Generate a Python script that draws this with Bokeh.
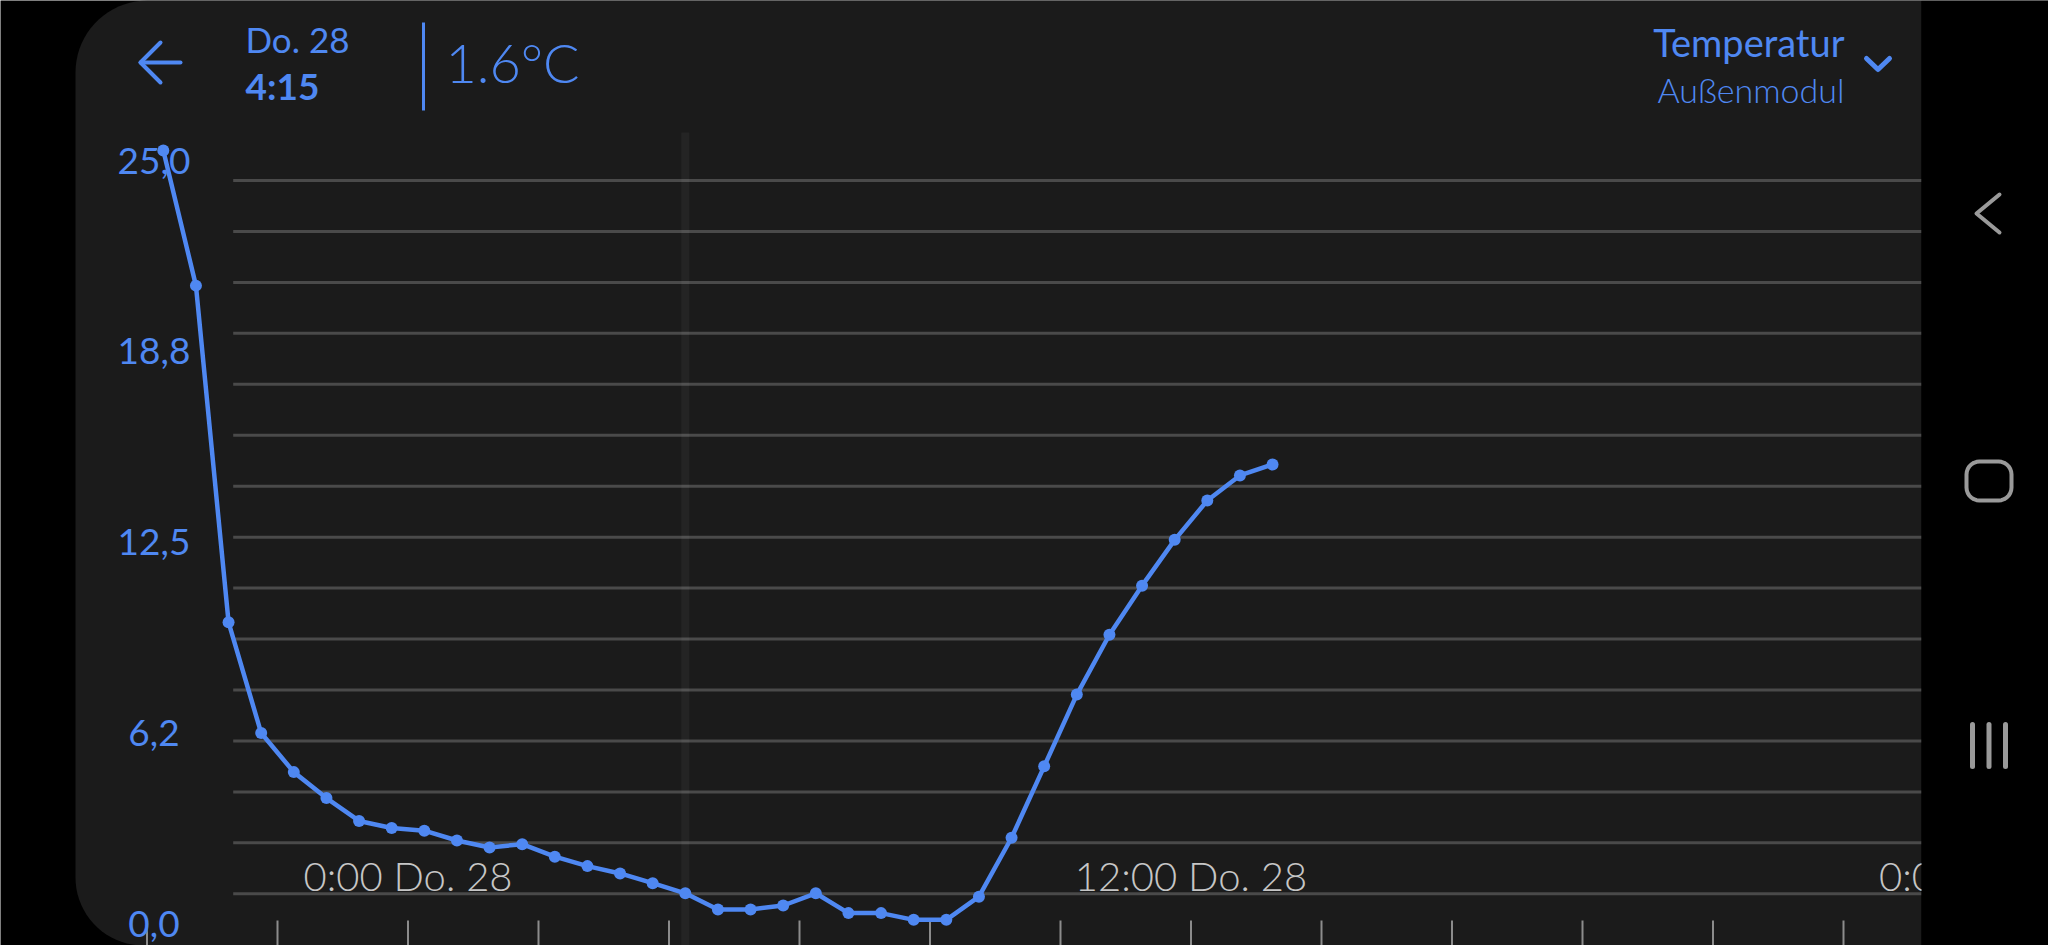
import numpy as np
from bokeh.plotting import figure
from bokeh.models import Range1d
from bokeh.core.properties import value
from bokeh.embed import file_html
from bokeh.resources import INLINE

# ---------------- data ----------------
times = ["20:15", "20:45", "21:15", "21:45", "22:15", "22:45", "23:15", "23:45",
         "0:15", "0:45", "1:15", "1:45", "2:15", "2:45", "3:15", "3:45", "4:15", "4:45",
         "5:15", "5:45", "6:15", "6:45", "7:15", "7:45", "8:15", "8:45", "9:15", "9:45",
         "10:15", "10:45", "11:15", "11:45", "12:15", "12:45", "13:15"]
temps = [25.33, 20.90, 9.87, 6.24, 4.96, 4.11, 3.36, 3.13, 3.04, 2.72, 2.49, 2.60,
         2.19, 1.88, 1.64, 1.32, 0.99, 0.46, 0.46, 0.59, 0.99, 0.34, 0.34, 0.12,
         0.12, 0.88, 2.81, 5.15, 7.50, 9.46, 11.07, 12.57, 13.86, 14.68, 15.04]
y_ticks = [0, 6.25, 12.5, 18.75, 25.0]
y_tick_labels = ["0,0", "6,2", "12,5", "18,8", "25,0"]
x_tick_hours = [-4, -2, 0, 2, 4, 6, 8, 10, 12, 14, 16, 18, 20, 22]
x_label_hours = [0, 12, 24]
x_labels = ["0:00 Do. 28", "12:00 Do. 28", "0:00 Fr. 29"]
sel_time = "4:15"
sel_day = "Do. 28"
sel_value = "1.6°C"
metric = "Temperatur"
module = "Außenmodul"


def to_hours(t):
    hh, mm = t.split(":")
    h = int(hh) + int(mm) / 60.0
    return h - 24 if int(hh) >= 18 else h


hours = [to_hours(t) for t in times]
sel_hour = to_hours(sel_time)

# ---------------- layout geometry (reference pixel space) ----------------
X0, PX_PER_H = 407.5, 65.25      # pixel of 0:00 and pixels per hour
Y0, PX_PER_DEG = 923.0, 30.52    # pixel of 0 °C and pixels per degree
LEFT, RIGHT, TOP, BOTTOM = 0, 2048, 0, 945   # canvas in reference pixels

BLUE = "#4f88f2"
PANEL = "#1b1b1b"
GRID = "#4a4a4a"
NAV = "#9a9a9a"


def U(y):  # reference y (down) -> px-range y (up)
    return 945 - y


p = figure(width=RIGHT - LEFT, height=BOTTOM - TOP,
           x_range=Range1d((LEFT - X0) / PX_PER_H, (RIGHT - X0) / PX_PER_H),
           y_range=Range1d((Y0 - BOTTOM) / PX_PER_DEG, (Y0 - TOP) / PX_PER_DEG),
           x_axis_type=None, y_axis_type=None, title=None,
           toolbar_location=None, output_backend="svg", min_border=0,
           background_fill_color="#000000", border_fill_color="#000000",
           outline_line_color=None)
p.extra_x_ranges = {"px": Range1d(LEFT, RIGHT)}
p.extra_y_ranges = {"px": Range1d(U(BOTTOM), U(TOP))}


def arc(cx, cy, r, a0, a1, n=20):
    a = np.radians(np.linspace(a0, a1, n))
    return list(cx + r * np.cos(a)), list(cy - r * np.sin(a))


# panel with rounded left corners
ax1, ay1 = arc(147, 72, 72, 90, 180)
ax2, ay2 = arc(143, 877, 68, 180, 270)
px_ = [1921] + ax1 + ax2 + [1921]
py_ = [0] + ay1 + ay2 + [945]
p.patch(px_, [U(y) for y in py_], fill_color=PANEL, line_color=None,
        x_range_name="px", y_range_name="px")

# horizontal guide lines
gy = [893.3 - 50.95 * i for i in range(15)]
p.segment(x0=[232.7] * 15, x1=[1921] * 15, y0=[U(y) for y in gy], y1=[U(y) for y in gy],
          line_color=GRID, line_width=3, x_range_name="px", y_range_name="px")

# highlight of selected time
p.segment(x0=[sel_hour], x1=[sel_hour], y0=[U(132)], y1=[U(945)], line_color="#ffffff",
          line_alpha=0.045, line_width=8, y_range_name="px")

# bottom tick marks
p.segment(x0=x_tick_hours, x1=x_tick_hours, y0=[U(920)] * len(x_tick_hours),
          y1=[U(945)] * len(x_tick_hours), line_color="#8c8c8c", line_width=2,
          y_range_name="px")

# x labels inside chart
p.text(x=x_label_hours, y=[U(875)] * len(x_label_hours), text=x_labels,
       text_font=value("Lato Light"), text_font_size="40px", text_color="#c6c6c6",
       text_align="center", text_baseline="middle", y_range_name="px")

# y labels
p.text(x=[153.5] * len(y_ticks), y=y_ticks, text=y_tick_labels,
       text_font=value("Lato"), text_font_size="37px", text_color=BLUE,
       text_align="center", text_baseline="middle", x_range_name="px")

# data
p.line(hours, temps, line_color=BLUE, line_width=4.5, line_join="round")
p.scatter(hours, temps, size=12, fill_color=BLUE, line_color=None)

# navigation bar (covers the clipped right label)
p.quad(left=[1921], right=[2048], top=[U(0)], bottom=[U(945)], fill_color="#000000",
       line_color=None, x_range_name="px", y_range_name="px")
p.multi_line(xs=[[1999, 1976, 1999]], ys=[[U(194), U(213), U(232)]], line_color=NAV,
             line_width=4, line_cap="round", line_join="round",
             x_range_name="px", y_range_name="px")
rx, ry = [], []
for cx, cy, a0 in [(1998, 474, 0), (1979, 474, 90), (1979, 487, 180), (1998, 487, 270)]:
    xx, yy = arc(cx, cy, 13, a0, a0 + 90, 8)
    rx += xx
    ry += yy
p.patch(rx, [U(y) for y in ry], fill_color=None, line_color=NAV, line_width=4,
        x_range_name="px", y_range_name="px")
p.segment(x0=[1972, 1988.5, 2005], x1=[1972, 1988.5, 2005], y0=[U(724)] * 3,
          y1=[U(766)] * 3, line_color=NAV, line_width=5, line_cap="round",
          x_range_name="px", y_range_name="px")

# header
p.multi_line(xs=[[180, 140], [160, 140, 160]], ys=[[U(62), U(62)], [U(42), U(62), U(82)]],
             line_color=BLUE, line_width=4, line_cap="round", line_join="round",
             x_range_name="px", y_range_name="px")
p.text(x=[245], y=[U(38.5)], text=[sel_day], text_font=value("Lato"), text_font_size="35px",
       text_color=BLUE, text_baseline="middle", x_range_name="px", y_range_name="px")
p.text(x=[245], y=[U(84.5)], text=[sel_time], text_font=value("Lato"), text_font_size="37px",
       text_font_style="bold", text_color=BLUE, text_baseline="middle",
       x_range_name="px", y_range_name="px")
p.segment(x0=[423], x1=[423], y0=[U(22)], y1=[U(110)], line_color=BLUE, line_width=3,
          x_range_name="px", y_range_name="px")
p.text(x=[445], y=[U(62)], text=[sel_value], text_font=value("Lato Light"),
       text_font_size="54px", text_color=BLUE, text_baseline="middle",
       x_range_name="px", y_range_name="px")
p.text(x=[1844], y=[U(41.5)], text=[metric], text_font=value("Lato"), text_font_size="38px",
       text_color=BLUE, text_align="right", text_baseline="middle",
       x_range_name="px", y_range_name="px")
p.text(x=[1844], y=[U(88.5)], text=[module], text_font=value("Lato Light"),
       text_font_size="34px", text_color=BLUE, text_align="right",
       text_baseline="middle", x_range_name="px", y_range_name="px")
p.multi_line(xs=[[1866, 1877.5, 1889]], ys=[[U(58), U(69), U(58)]], line_color=BLUE,
             line_width=5, line_cap="round", line_join="round",
             x_range_name="px", y_range_name="px")

open("out.html", "w").write(file_html(p, INLINE))
